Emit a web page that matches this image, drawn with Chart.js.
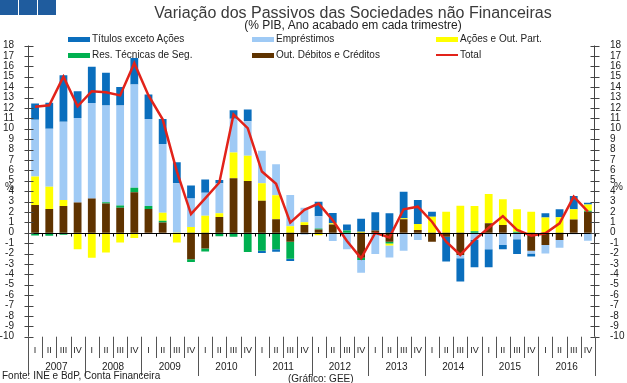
<!DOCTYPE html>
<html><head><meta charset="utf-8">
<script src="https://cdn.jsdelivr.net/npm/chart.js@4"></script>
<style>
html,body{margin:0;padding:0;background:#fff;}
#wrap{position:relative;width:627px;height:383px;overflow:hidden;font-family:"Liberation Sans",Arial,sans-serif;color:#222;}
#c{position:absolute;left:0;top:0;}
.t{position:absolute;white-space:nowrap;line-height:1;}
.sq{position:absolute;top:0;width:18px;height:15px;background:#1f5c9e;}
.box{position:absolute;width:22px;height:5px;}
</style></head><body>
<div id="wrap">
<canvas id="c" width="627" height="383"></canvas>
<div class="sq" style="left:0"></div><div class="sq" style="left:19px"></div><div class="sq" style="left:38px"></div>
<div class="t" style="left:0;width:706px;text-align:center;top:4.7px;font-size:16px;color:#3a3a3a;">Variação dos Passivos das Sociedades não Financeiras</div>
<div class="t" style="left:0;width:706px;text-align:center;top:19.3px;font-size:12px;color:#222;">(% PIB, Ano acabado em cada trimestre)</div>
<div id="legend"></div>
<div class="t" style="left:5px;top:182px;font-size:10px;">%</div>
<div class="t" style="left:614px;top:182px;font-size:10px;">%</div>
<div class="t" style="left:2px;top:370.5px;font-size:10px;">Fonte: INE e BdP, Conta Financeira</div>
<div class="t" style="left:288px;top:373.5px;font-size:10px;">(Gráfico: GEE)</div>
</div>
<script>
const years = ['2007','2008','2009','2010','2011','2012','2013','2014','2015','2016'];
const quarters = ['I','II','III','IV'];
const categories = years.flatMap(y => quarters.map(q => q + ' ' + y));

const outDebitos = [2.66,2.27,2.56,2.9,3.3,2.8,2.39,3.88,2.27,0.98, 0,-2.56,-1.53,1.5,5.23,4.97,3.07,1.29,-0.87,0.74, 0.3,0.8,0,-2.4,0.2,-0.87,1.3,0.26,-0.87,-0.38, -2.15,0,0.9,0.74,0,-1.73,-1.18,-0.7,1.28,2.02];
const resTecnicas = [-0.26,-0.3,-0.2,0,0,0.13,0.23,0.45,0.29,0.16, 0,-0.26,-0.27,-0.33,-0.38,-1.85,-1.74,-1.6,-1.64,0, 0.1,0,0.2,-0.22,0,-0.16,0,0,0,0, 0,0.15,0,0,0.1,0,0,0,0,0.1];
const acoes = [2.74,2.16,0.58,-1.6,-2.4,-1.9,-0.95,-0.5,0,0.77, -0.95,0.56,1.63,0.36,2.49,2.42,1.68,2.32,0.63,0.26, -0.25,0.1,0,0.1,0,-0.2,0.08,0.57,1.54,2.02, 2.6,2.42,2.82,2.47,2.15,2.02,1.45,1.48,0.97,0.6];
const emprestimos = [5.47,5.57,7.54,8.13,9.18,9.29,9.6,9.92,8.37,6.61, 4.75,2.74,2.2,2.89,3.24,3.32,3.13,2.97,2.99,1.4, 1.19,-0.8,-1.6,-1.23,-2.05,-1.16,-1.73,-0.7,0,0, -0.3,-0.7,-1.6,-1.18,-0.64,-0.26,-0.81,-0.74,-0.16,-0.77];
const titulos = [1.55,2.5,4.47,2.57,3.48,3.16,1.8,2.55,2.35,2.41, 2.03,1.23,1.29,0.32,0.81,1.13,-0.2,-0.22,-0.22,-0.15, 1.39,1.0,0.6,1.25,1.76,1.86,2.56,2.31,0.48,-2.4, -2.25,-2.63,-1.73,-0.42,-1.41,-0.31,0.41,0.77,1.28,0.15];
const total = [12.1,12.25,15.0,12.16,13.6,13.5,13.2,16.3,13.2,10.9, 5.9,1.79,3.3,4.83,11.37,10.06,5.88,4.7,0.97,2.19, 2.8,1.2,-0.8,-2.46,0.0,-0.45,2.25,2.5,1.06,-0.86, -2.14,-0.7,0.48,1.6,0.26,-0.29,-0.06,0.9,3.46,2.02];

const yMin = -10, yMax = 18;

const colors = {
  titulos:'#0a6ebd', emprestimos:'#9fcaf5', acoes:'#ffff00',
  resTecnicas:'#00b050', outDebitos:'#5f3300', total:'#e2231a'
};

const legendItems = [
  {label:'Títulos exceto Ações', color:colors.titulos, x:68, row:0},
  {label:'Empréstimos', color:colors.emprestimos, x:252, row:0},
  {label:'Ações e Out. Part.', color:colors.acoes, x:436, row:0},
  {label:'Res. Técnicas de Seg.', color:colors.resTecnicas, x:68, row:1},
  {label:'Out. Débitos e Créditos', color:colors.outDebitos, x:252, row:1},
  {label:'Total', color:colors.total, x:436, row:1, line:true}
];
const lg = document.getElementById('legend');
legendItems.forEach(it => {
  const by = it.row ? 52.7 : 37.3;
  const b = document.createElement('div');
  b.className = 'box';
  b.style.left = it.x + 'px';
  if (it.line) { b.style.top = (by + 1.5) + 'px'; b.style.height = '2px'; }
  else { b.style.top = by + 'px'; }
  b.style.background = it.color;
  lg.appendChild(b);
  const t = document.createElement('div');
  t.className = 't';
  t.style.left = (it.x + 24) + 'px';
  t.style.top = (it.row ? 49.6 : 34.4) + 'px';
  t.style.fontSize = '10px';
  t.textContent = it.label;
  lg.appendChild(t);
});

const deco = {
  id:'deco',
  afterDatasetsDraw(chart){
    const {ctx, chartArea:a, scales:{x, y}} = chart;
    ctx.save();
    const y0 = Math.round(y.getPixelForValue(0)) + 0.5;
    const w = x.getPixelForValue(1) - x.getPixelForValue(0);
    ctx.strokeStyle = '#000'; ctx.lineWidth = 1;
    ctx.beginPath(); ctx.moveTo(a.left, y0); ctx.lineTo(a.right, y0);
    for (let k = 0; k <= categories.length; k++) {
      const px = Math.round(x.getPixelForValue(0) - w/2 + k*w) + 0.5;
      ctx.moveTo(px, y0); ctx.lineTo(px, y0 + 3);
    }
    ctx.stroke();
    ctx.restore();
  },
  afterDraw(chart){
    const {ctx, chartArea:a, scales:{x, y}} = chart;
    ctx.save();
    ctx.strokeStyle = '#444'; ctx.lineWidth = 1;
    // axis lines + crossing ticks
    const lx = Math.round(a.left) + 0.5, rx = Math.round(a.right) - 0.5;
    ctx.beginPath();
    ctx.moveTo(lx, a.top); ctx.lineTo(lx, a.bottom);
    ctx.moveTo(rx, a.top); ctx.lineTo(rx, a.bottom);
    for (let v = yMin; v <= yMax; v++) {
      const py = Math.round(y.getPixelForValue(v)) + 0.5;
      ctx.moveTo(lx - 4, py); ctx.lineTo(lx + 5, py);
      ctx.moveTo(rx - 4, py); ctx.lineTo(rx + 5, py);
    }
    ctx.stroke();
    // category separators
    const w = x.getPixelForValue(1) - x.getPixelForValue(0);
    const x0 = x.getPixelForValue(0) - w/2;
    ctx.strokeStyle = '#555';
    ctx.beginPath();
    for (let k = 0; k <= categories.length; k++) {
      const px = Math.round(x0 + k*w) + 0.5;
      const isYear = k % 4 === 0;
      ctx.moveTo(px, a.bottom);
      ctx.lineTo(px, isYear ? 376 : 358);
    }
    ctx.stroke();
    ctx.fillStyle = '#222';
    ctx.textAlign = 'center'; ctx.textBaseline = 'middle';
    ctx.font = '9px "Liberation Sans", Arial, sans-serif';
    categories.forEach((c, i) => {
      ctx.fillText(quarters[i % 4], x.getPixelForValue(i), 351);
    });
    ctx.font = '10px "Liberation Sans", Arial, sans-serif';
    years.forEach((yr, j) => {
      ctx.fillText(yr, x0 + (j*4 + 2)*w, 367);
    });
    ctx.restore();
  }
};

const barDs = (label, data, color) => ({
  type:'bar', label, data, backgroundColor:color, borderWidth:0,
  barPercentage:0.55, categoryPercentage:1.0, yAxisID:'y', stack:'s'
});

new Chart(document.getElementById('c'), {
  data: {
    labels: categories,
    datasets: [
      barDs('Out. Débitos e Créditos', outDebitos, colors.outDebitos),
      barDs('Res. Técnicas de Seg.', resTecnicas, colors.resTecnicas),
      barDs('Ações e Out. Part.', acoes, colors.acoes),
      barDs('Empréstimos', emprestimos, colors.emprestimos),
      barDs('Títulos exceto Ações', titulos, colors.titulos),
      {type:'line', label:'Total', data: total, borderColor: colors.total, borderWidth:2.5,
       pointRadius:0, tension:0, yAxisID:'y2', order:-1, fill:false}
    ]
  },
  options: {
    responsive:false, animation:false, devicePixelRatio:1,
    layout:{padding:{top:45.5, bottom:46.3, left:0, right:0}},
    plugins:{legend:{display:false}, title:{display:false}, tooltip:{enabled:false}},
    scales:{
      x:{type:'category', stacked:true, offset:true, display:false},
      y:{position:'left', stacked:true, min:yMin, max:yMax,
         ticks:{stepSize:1, autoSkip:false, padding:6, color:'#222', font:{family:'"Liberation Sans", Arial', size:10}},
         grid:{display:false}, border:{display:false},
         afterFit(s){ s.width = 28; }},
      y2:{position:'right', stacked:false, min:yMin, max:yMax,
         ticks:{stepSize:1, autoSkip:false, padding:7, color:'#222', font:{family:'"Liberation Sans", Arial', size:10}},
         grid:{display:false}, border:{display:false},
         afterFit(s){ s.width = 32; }}
    }
  },
  plugins:[deco]
});
</script>
</body></html>
